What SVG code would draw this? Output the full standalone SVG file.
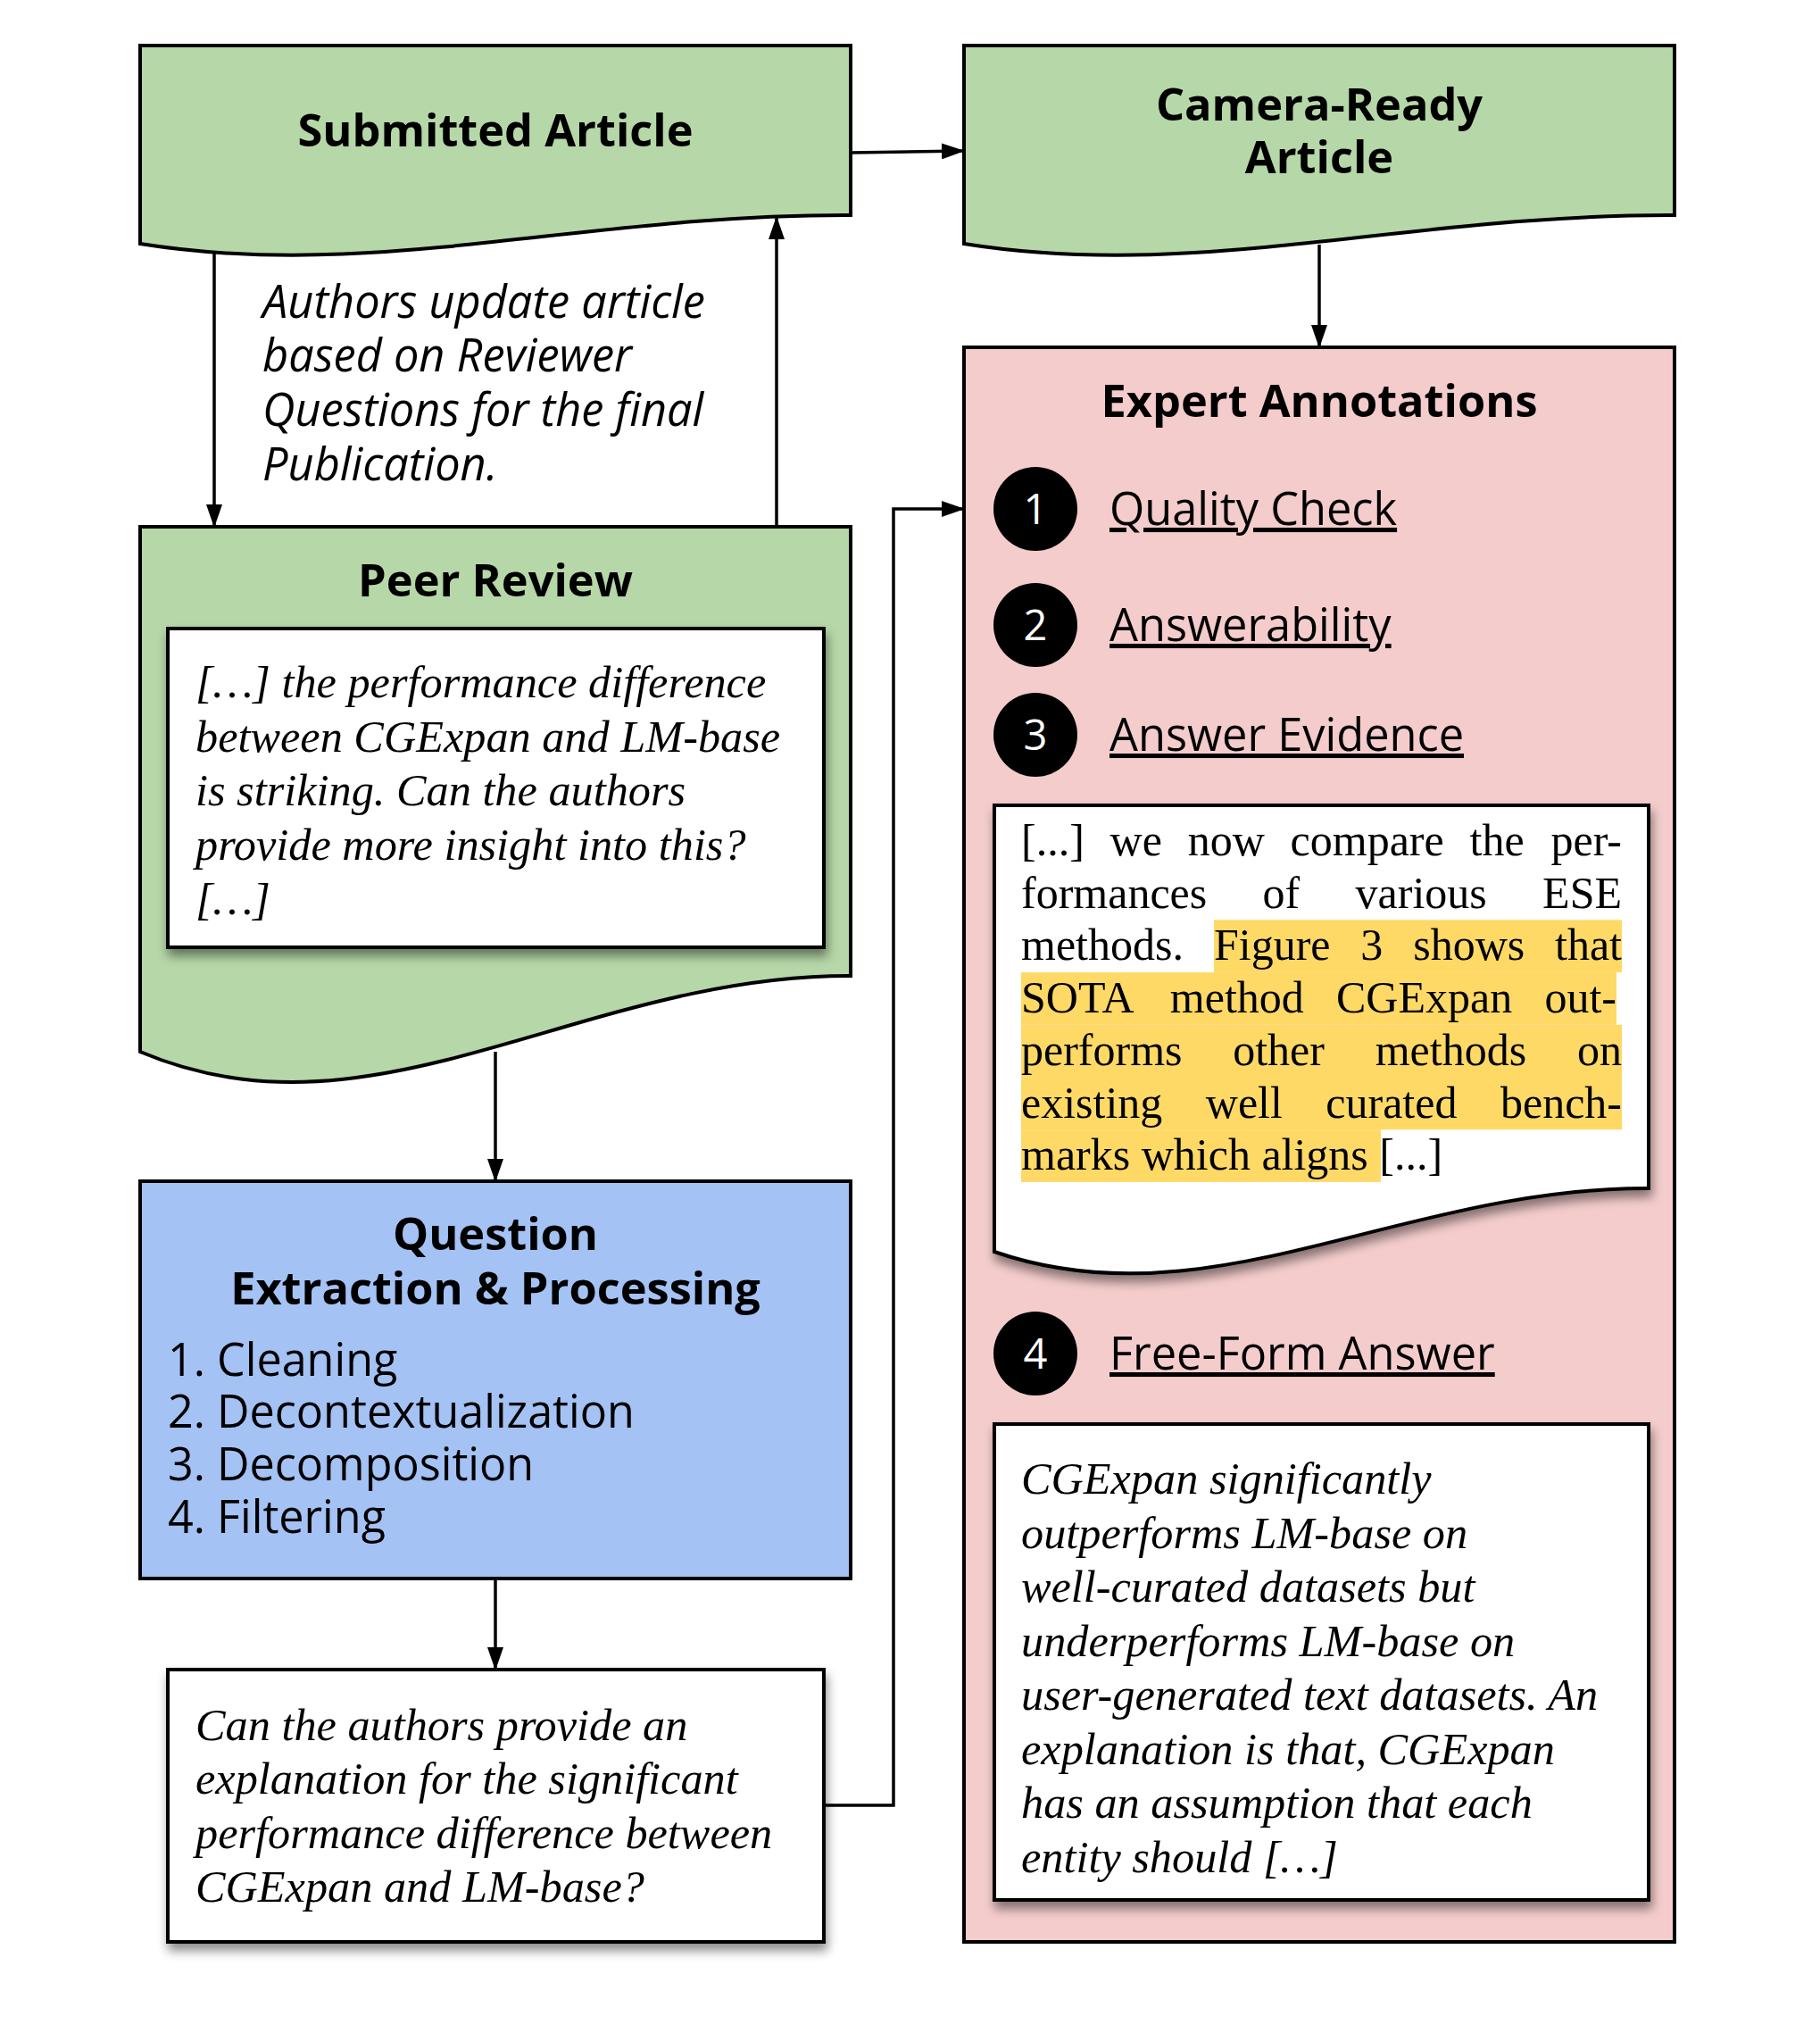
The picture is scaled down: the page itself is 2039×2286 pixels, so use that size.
<svg xmlns="http://www.w3.org/2000/svg" width="2039" height="2286" viewBox="0 0 2039 2286">
<style>
.box{stroke:#000;stroke-width:4;stroke-linejoin:miter}
.green{fill:#b6d7a8}
.blue{fill:#a4c2f4}
.pink{fill:#f4cccc}
.white{fill:#fff}
.title{font-family:'Open Sans','Noto Sans',sans-serif;font-weight:bold;font-size:50.5px;fill:#000;text-anchor:middle}
.sans{font-family:'Open Sans','Noto Sans',sans-serif;font-size:50.3px;fill:#000}
.sansit{font-family:'Open Sans','Noto Sans',sans-serif;font-style:italic;font-size:50.5px;fill:#000}
.item{font-family:'Open Sans','Noto Sans',sans-serif;font-size:50.5px;fill:#000;text-decoration:underline;text-decoration-thickness:3.5px}
.num{font-family:'Open Sans','Noto Sans',sans-serif;font-size:47px;fill:#fff;text-anchor:middle}
.serit{font-family:'Liberation Serif','Times New Roman',serif;font-style:italic;font-size:50.3px;fill:#000}
.ser{font-family:'Liberation Serif','Times New Roman',serif;font-size:50px;fill:#000}
.conn{fill:none;stroke:#000;stroke-width:3.5}
.hl{fill:#ffd966}
</style>
<defs>
<marker id="arr" viewBox="0 0 26 18" refX="25" refY="9" markerWidth="26" markerHeight="18" markerUnits="userSpaceOnUse" orient="auto">
<path d="M0,0 L26,9 L0,18 z" fill="#000"/>
</marker>
<filter id="shadow" x="-10%" y="-10%" width="125%" height="130%">
<feDropShadow dx="2" dy="8" stdDeviation="6" flood-color="#000" flood-opacity="0.45"/>
</filter>
</defs>
<rect width="2039" height="2286" fill="#fff"/>

<g id="connectors">
<line class="conn" x1="953" y1="171" x2="1080" y2="169" marker-end="url(#arr)"/>
<line class="conn" x1="1478" y1="274" x2="1478" y2="389" marker-end="url(#arr)"/>
<line class="conn" x1="240" y1="278" x2="240" y2="590" marker-end="url(#arr)"/>
<line class="conn" x1="870" y1="590" x2="870" y2="243" marker-end="url(#arr)"/>
<line class="conn" x1="555" y1="1178" x2="555" y2="1323" marker-end="url(#arr)"/>
<line class="conn" x1="555" y1="1768" x2="555" y2="1870" marker-end="url(#arr)"/>
<polyline class="conn" points="923,2022 1001,2022 1001,570 1080,570" marker-end="url(#arr)"/>
</g>

<g id="submitted-article">
<path class="box green" d="M157,51 H953 V241 C650,240 420,315 157,273 Z"/>
<text class="title" x="555" y="164">Submitted Article</text>
</g>

<g id="camera-ready-article">
<path class="box green" d="M1080,51 H1876 V241 C1574,240 1343,315 1080,273 Z"/>
<text class="title" x="1478" y="135">Camera-Ready</text>
<text class="title" x="1478" y="194">Article</text>
</g>

<g id="update-label">
<text class="sansit" x="294" y="356">Authors update article</text>
<text class="sansit" x="294" y="416">based on Reviewer</text>
<text class="sansit" x="294" y="477">Questions for the final</text>
<text class="sansit" x="294" y="538">Publication.</text>
</g>

<g id="peer-review">
<path class="box green" d="M157,590 H953 V1093 C650,1092 420,1289 157,1178 Z"/>
<text class="title" x="555" y="668">Peer Review</text>
<g id="review-excerpt">
<rect class="box white" x="188" y="704" width="735" height="357" filter="url(#shadow)"/>
<text class="serit" x="219" y="781">[…] the performance difference</text>
<text class="serit" x="219" y="842">between CGExpan and LM-base</text>
<text class="serit" x="219" y="902">is striking. Can the authors</text>
<text class="serit" x="219" y="963">provide more insight into this?</text>
<text class="serit" x="219" y="1024">[…]</text>
</g>
</g>

<g id="question-processing">
<rect class="box blue" x="157" y="1323" width="796" height="445"/>
<text class="title" x="555" y="1400">Question</text>
<text class="title" x="555" y="1461">Extraction &amp; Processing</text>
<text class="sans" x="188" y="1541">1. Cleaning</text>
<text class="sans" x="188" y="1599">2. Decontextualization</text>
<text class="sans" x="188" y="1658">3. Decomposition</text>
<text class="sans" x="188" y="1717">4. Filtering</text>
</g>

<g id="extracted-question">
<rect class="box white" x="188" y="1870" width="735" height="305" filter="url(#shadow)"/>
<text class="serit" x="219" y="1949">Can the authors provide an</text>
<text class="serit" x="219" y="2009">explanation for the significant</text>
<text class="serit" x="219" y="2070">performance difference between</text>
<text class="serit" x="219" y="2130">CGExpan and LM-base?</text>
</g>

<g id="expert-annotations">
<rect class="box pink" x="1080" y="389" width="796" height="1786"/>
<text class="title" x="1478" y="467">Expert Annotations</text>
<g id="item-1">
<circle cx="1160" cy="570" r="47" fill="#000"/>
<text class="num" x="1160" y="587">1</text>
<text class="item" x="1243" y="588">Quality Check</text>
</g>
<g id="item-2">
<circle cx="1160" cy="700" r="47" fill="#000"/>
<text class="num" x="1160" y="717">2</text>
<text class="item" x="1243" y="718">Answerability</text>
</g>
<g id="item-3">
<circle cx="1160" cy="823" r="47" fill="#000"/>
<text class="num" x="1160" y="840">3</text>
<text class="item" x="1243" y="841">Answer Evidence</text>
</g>
<g id="evidence-doc">
<path class="box white" d="M1114,902 H1847 V1331 C1568,1330 1356,1485 1114,1402 Z" filter="url(#shadow)"/>
<rect class="hl" x="1360" y="1030.4" width="457" height="58.7"/>
<rect class="hl" x="1144" y="1089.1" width="667" height="58.7"/>
<rect class="hl" x="1144" y="1147.8" width="673" height="117.4"/>
<rect class="hl" x="1144" y="1265.2" width="403" height="58.7"/>
<text class="ser" y="958"><tspan x="1144">[...]</tspan><tspan x="1243.6">we</tspan><tspan x="1330.7">now</tspan><tspan x="1445.6">compare</tspan><tspan x="1646.6">the</tspan><tspan x="1817" text-anchor="end">per-</tspan></text>
<text class="ser" y="1016.7"><tspan x="1144">formances</tspan><tspan x="1414.6">of</tspan><tspan x="1518.6">various</tspan><tspan x="1817" text-anchor="end">ESE</tspan></text>
<text class="ser" y="1075.4"><tspan x="1144">methods.</tspan><tspan x="1360">Figure</tspan><tspan x="1524.3">3</tspan><tspan x="1583.2">shows</tspan><tspan x="1817" text-anchor="end">that</tspan></text>
<text class="ser" y="1134.1"><tspan x="1144">SOTA</tspan><tspan x="1310.8">method</tspan><tspan x="1497">CGExpan</tspan><tspan x="1811" text-anchor="end">out-</tspan></text>
<text class="ser" y="1192.8"><tspan x="1144">performs</tspan><tspan x="1381.2">other</tspan><tspan x="1540.7">methods</tspan><tspan x="1817" text-anchor="end">on</tspan></text>
<text class="ser" y="1251.5"><tspan x="1144">existing</tspan><tspan x="1350.8">well</tspan><tspan x="1485.3">curated</tspan><tspan x="1817" text-anchor="end">bench-</tspan></text>
<text class="ser" x="1144" y="1310.2">marks which aligns [...]</text>
</g>
<g id="item-4">
<circle cx="1160" cy="1516" r="47" fill="#000"/>
<text class="num" x="1160" y="1533">4</text>
<text class="item" x="1243" y="1534">Free-Form Answer</text>
</g>
<g id="free-form-answer">
<rect class="box white" x="1114" y="1595" width="733" height="533" filter="url(#shadow)"/>
<text class="serit" x="1144" y="1673">CGExpan significantly</text>
<text class="serit" x="1144" y="1734">outperforms LM-base on</text>
<text class="serit" x="1144" y="1794">well-curated datasets but</text>
<text class="serit" x="1144" y="1855">underperforms LM-base on</text>
<text class="serit" x="1144" y="1915">user-generated text datasets. An</text>
<text class="serit" x="1144" y="1976">explanation is that, CGExpan</text>
<text class="serit" x="1144" y="2036">has an assumption that each</text>
<text class="serit" x="1144" y="2097">entity should […]</text>
</g>
</g>
</svg>
